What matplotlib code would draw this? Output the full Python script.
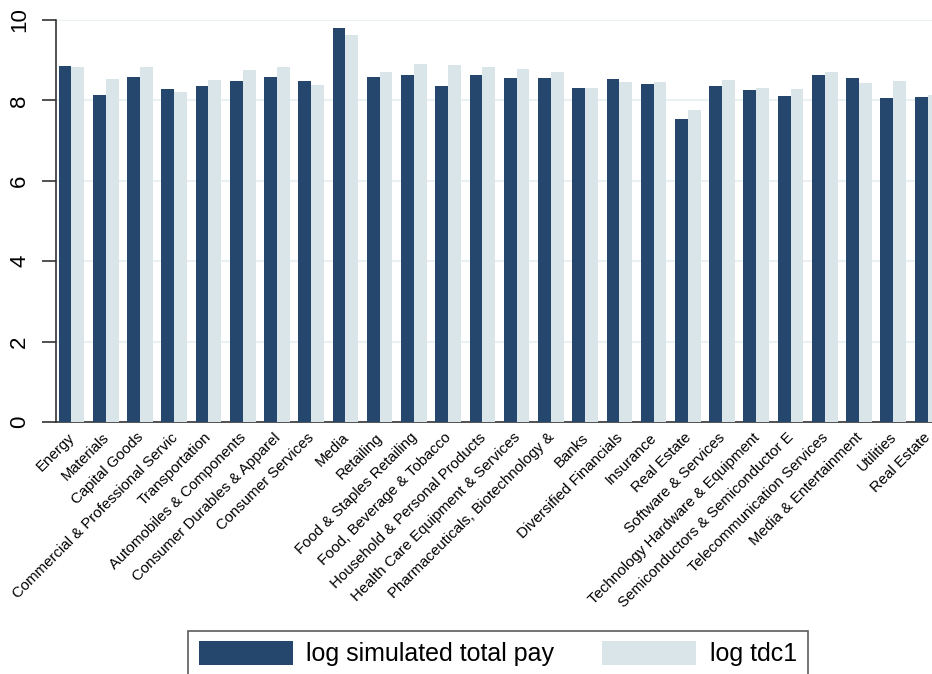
import matplotlib
matplotlib.use("Agg")
import matplotlib.pyplot as plt
import matplotlib.transforms as mtransforms
import numpy as np
from matplotlib.patches import Patch

categories = [
    "Energy", "Materials", "Capital Goods", "Commercial & Professional Servic",
    "Transportation", "Automobiles & Components", "Consumer Durables & Apparel",
    "Consumer Services", "Media", "Retailing", "Food & Staples Retailing",
    "Food, Beverage & Tobacco", "Household & Personal Products",
    "Health Care Equipment & Services", "Pharmaceuticals, Biotechnology &",
    "Banks", "Diversified Financials", "Insurance", "Real Estate",
    "Software & Services", "Technology Hardware & Equipment",
    "Semiconductors & Semiconductor E", "Telecommunication Services",
    "Media & Entertainment", "Utilities", "Real Estate",
]
sim_pay = [8.86, 8.13, 8.57, 8.28, 8.36, 8.48, 8.58, 8.48, 9.81, 8.57, 8.62,
           8.36, 8.62, 8.55, 8.55, 8.30, 8.52, 8.41, 7.53, 8.37, 8.27, 8.12,
           8.62, 8.56, 8.05, 8.08]
tdc1 = [8.84, 8.53, 8.84, 8.21, 8.51, 8.76, 8.82, 8.39, 9.63, 8.70, 8.90,
        8.87, 8.84, 8.78, 8.71, 8.32, 8.47, 8.47, 7.76, 8.51, 8.31, 8.29,
        8.71, 8.44, 8.49, 8.13]
series_labels = ["log simulated total pay", "log tdc1"]
yticks = [0, 2, 4, 6, 8, 10]

dark = "#25476D"
light = "#DAE5EA"
grid = "#EAF1F3"

plt.rcParams['font.family'] = ['Liberation Sans', 'DejaVu Sans']

W, H = 932, 674
fig = plt.figure(figsize=(W / 100, H / 100), dpi=100)
ax_left = 56 / W
ax_right = 943 / W
ax_bottom = (H - 422) / H
ax_top = (H - 20) / H
ax = fig.add_axes([ax_left, ax_bottom, ax_right - ax_left, ax_top - ax_bottom])

x = np.arange(len(categories))
bw = 0.375
ax.bar(x - bw / 2, sim_pay, width=bw, color=dark, zorder=3, linewidth=0)
ax.bar(x + bw / 2, tdc1, width=bw, color=light, zorder=3, linewidth=0)

ax.set_xlim(-0.4526, len(categories) - 1 + 0.4526)
ax.set_ylim(0, 10)
ax.set_yticks(yticks)
ax.set_yticklabels([str(v) for v in yticks], rotation=90, va='center', fontsize=16)
ax.yaxis.grid(True, color=grid, linewidth=1.5, zorder=0)
ax.set_axisbelow(True)

ax.set_xticks(x)
ax.set_xticklabels(categories, rotation=45, ha='right', va='top',
                   rotation_mode='anchor', fontsize=10.8)
ax.tick_params(axis='x', length=0, pad=6)
ax.tick_params(axis='y', length=10, width=1.2, color='#333333', pad=8.5)
offset = mtransforms.ScaledTranslation(-4 / 100, 0, fig.dpi_scale_trans)
for lab in ax.get_xticklabels():
    lab.set_transform(lab.get_transform() + offset)

for s in ['top', 'right']:
    ax.spines[s].set_visible(False)
ax.spines['left'].set_color('#333333')
ax.spines['bottom'].set_color('#333333')
ax.spines['left'].set_linewidth(1.2)
ax.spines['bottom'].set_linewidth(1.2)

handles = [Patch(facecolor=dark, edgecolor='none'), Patch(facecolor=light, edgecolor='none')]
leg = fig.legend(handles, series_labels, loc='upper left',
                 bbox_to_anchor=(188 / W, (H - 630.5) / H), ncol=2,
                 fontsize=18, frameon=True, fancybox=False,
                 handlelength=3.76, handleheight=1.07, handletextpad=0.56,
                 columnspacing=1.9, borderpad=0.42, borderaxespad=0)
leg.get_frame().set_edgecolor('#333333')
leg.get_frame().set_linewidth(1.2)

fig.savefig("out.png", dpi=100)
